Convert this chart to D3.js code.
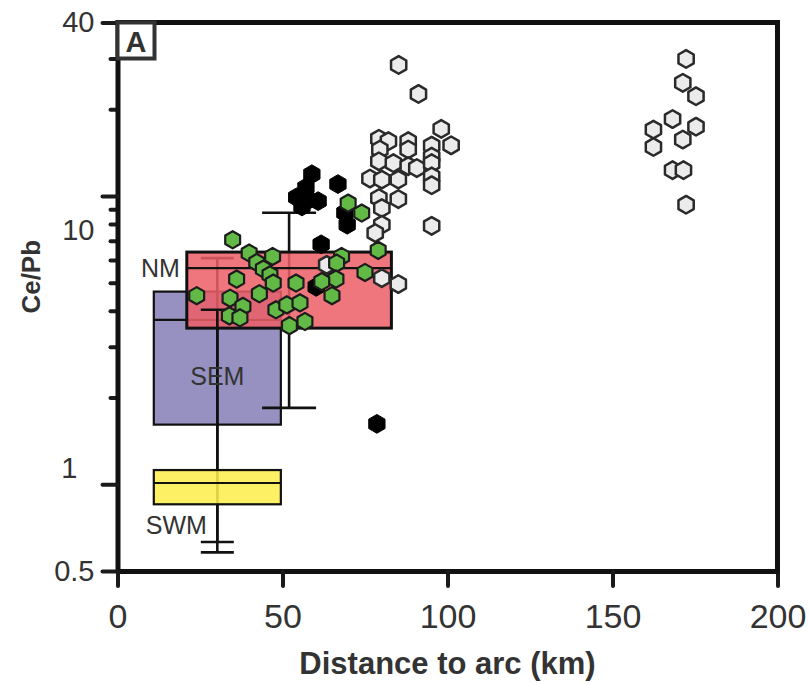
<!DOCTYPE html>
<html>
<head>
<meta charset="utf-8">
<script src="https://cdn.jsdelivr.net/npm/d3@7"></script>
<style>
  body { margin: 0; background: #fff; }
  svg { display: block; }
  text { font-family: "Liberation Sans", Arial, sans-serif; }
</style>
</head>
<body>
<svg id="chart" width="809" height="685"></svg>
<script>
// ---- Axis ticks ----
const xTicks = [0, 50, 100, 150, 200];
const yMajorTicks = [0.5, 1, 10, 40];
const yMinorTicks = [2, 3, 4, 5, 6, 7, 8, 9, 20, 30];

// ---- Box-and-whisker summaries (Ce/Pb vs distance to arc) ----
const boxNames  = ["SEM", "NM", "SWM"];
const boxFromKm = [11, 21, 11];
const boxToKm   = [49.5, 83, 49.5];
const boxLow    = [0.58, 1.84, 0.63];
const boxQ1     = [1.61, 3.48, 0.852];
const boxMedian = [3.72, 5.62, 1.01];
const boxQ3     = [4.66, 6.39, 1.12];
const boxHigh   = [6.09, 8.75, 4.03];

// ---- Samples: [distance km, Ce/Pb] ----
const blackSamples = [
  [58.9, 11.9], [57.1, 10.7], [54.3, 9.9], [60.8, 9.6], [55.9, 9.2], [58.0, 9.7],
  [66.8, 11.0], [68.9, 8.75], [69.6, 7.95], [61.7, 6.8], [60.2, 4.84], [78.6, 1.62]
];
const whiteSamples = [
  [172.3, 29.9], [171.3, 24.7], [175.3, 22.2], [168.2, 18.5], [162.4, 17.0], [175.3, 17.4],
  [171.3, 15.7], [162.4, 14.8], [168.2, 12.3], [171.5, 12.3], [172.3, 9.33],
  [85.2, 28.5], [91.2, 22.6], [98.1, 17.1], [101.1, 15.0], [79.2, 15.8], [82.1, 15.5],
  [88.1, 15.5], [95.2, 14.96], [79.5, 14.5], [88.1, 14.5], [95.2, 13.7], [79.2, 13.2],
  [83.6, 13.0], [88.1, 12.7], [90.7, 12.5], [95.2, 13.0], [76.5, 11.5], [80.1, 11.4],
  [85.1, 11.4], [95.2, 11.7], [95.2, 10.9], [79.2, 9.84], [85.1, 9.76], [80.1, 9.08],
  [80.1, 7.95], [78.1, 7.44], [95.2, 7.88], [63.4, 5.77], [80.1, 5.19], [85.1, 4.95]
];
const greenSamples = [
  [34.9, 7.05], [39.9, 6.34], [47.0, 6.17], [42.2, 5.88], [44.2, 5.58], [36.1, 5.15],
  [46.2, 5.33], [47.2, 4.99], [54.1, 4.99], [24.0, 4.51], [43.0, 4.58], [34.1, 4.42],
  [38.0, 4.14], [33.9, 3.84], [37.1, 3.78], [48.0, 4.03], [51.3, 4.19], [55.3, 4.26],
  [52.1, 3.55], [56.8, 3.67], [67.9, 6.17], [66.4, 5.85], [66.2, 5.15], [61.9, 5.05],
  [65.0, 4.51], [75.0, 5.43], [79.0, 6.48], [69.9, 9.45], [74.0, 8.73]
];

// ---- Styling ----
const boxFill    = { SEM: "#9691c1", NM: "#ee5f69", SWM: "#fdee4e" };
const boxOpacity = { SEM: 1, NM: 0.86, SWM: 0.88 };
const capWidth   = { SEM: 33, NM: 54, SWM: 33 };
const ink = "#111";
const textInk = "#333";

const svg = d3.select("#chart");
const x = d3.scaleLinear().domain([0, 200]).range([117.5, 777.5]);
const y = d3.scaleLog().domain([0.5, 40]).range([571, 22.5]);

const hexagon = {
  draw(ctx, size) {
    const r = Math.sqrt(size * 2 / (3 * Math.sqrt(3)));
    for (let i = 0; i < 6; i++) {
      const a = Math.PI / 3 * i - Math.PI / 2;
      const px = r * Math.cos(a), py = r * Math.sin(a);
      if (i === 0) ctx.moveTo(px, py); else ctx.lineTo(px, py);
    }
    ctx.closePath();
  }
};
const hexArea = r => 3 * Math.sqrt(3) / 2 * r * r;

const boxes = boxNames.map((name, i) => ({
  name, x0: boxFromKm[i], x1: boxToKm[i], low: boxLow[i], q1: boxQ1[i],
  med: boxMedian[i], q3: boxQ3[i], high: boxHigh[i]
}));
const box = n => boxes.find(b => b.name === n);

const plot = svg.append("g");

function drawBox(b) {
  const g = plot.append("g");
  g.append("rect")
    .attr("x", x(b.x0)).attr("y", y(b.q3))
    .attr("width", x(b.x1) - x(b.x0)).attr("height", y(b.q1) - y(b.q3))
    .attr("fill", boxFill[b.name]).attr("fill-opacity", boxOpacity[b.name])
    .attr("stroke", ink).attr("stroke-width", b.name === "NM" ? 3 : 2.2);
  g.append("line")
    .attr("x1", x(b.x0)).attr("x2", x(b.x1))
    .attr("y1", y(b.med)).attr("y2", y(b.med))
    .attr("stroke", ink).attr("stroke-width", 2.2);
}

function drawWhisker(b) {
  const g = plot.append("g").attr("stroke", ink).attr("stroke-width", 2.6);
  const cx = x((b.x0 + b.x1) / 2);
  const w = capWidth[b.name] / 2;
  g.append("line").attr("x1", cx).attr("x2", cx).attr("y1", y(b.high)).attr("y2", y(b.low));
  [b.high, b.low].forEach(v => {
    g.append("line").attr("x1", cx - w).attr("x2", cx + w).attr("y1", y(v)).attr("y2", y(v));
  });
}

// layering: SEM, its whisker, NM (translucent), then SWM on top
drawBox(box("SEM"));
drawWhisker(box("SEM"));
drawWhisker(box("NM"));
drawBox(box("NM"));
drawWhisker(box("SWM"));
drawBox(box("SWM"));

// group labels
const labelAnchor = {
  NM:  { x: b => b.x0, y: b => b.med, anchor: "end", dx: -7, dy: 9 },
  SEM: { x: b => (b.x0 + b.x1) / 2, y: b => Math.sqrt(b.q1 * b.med), anchor: "middle", dx: 0, dy: 13 },
  SWM: { x: b => b.x0, y: b => b.low, anchor: "start", dx: -8, dy: -8 }
};
plot.append("g").selectAll("text").data(boxes).join("text")
  .attr("x", b => x(labelAnchor[b.name].x(b)))
  .attr("y", b => y(labelAnchor[b.name].y(b)))
  .attr("text-anchor", b => labelAnchor[b.name].anchor)
  .attr("dx", b => labelAnchor[b.name].dx)
  .attr("dy", b => labelAnchor[b.name].dy)
  .attr("font-size", 25).attr("fill", textInk)
  .text(b => b.name);

// samples
function drawSamples(data, fill, stroke, sw, r) {
  plot.append("g").selectAll("path").data(data).join("path")
    .attr("transform", d => `translate(${x(d[0])},${y(d[1])})`)
    .attr("d", d3.symbol().type(hexagon).size(hexArea(r)))
    .attr("fill", fill).attr("stroke", stroke).attr("stroke-width", sw)
    .attr("stroke-linejoin", "round");
}
drawSamples(blackSamples, "#000", "#000", 1, 9.4);
drawSamples(whiteSamples, "#eaebea", "#2a2a2a", 2.5, 8.8);
drawSamples(greenSamples, "#63b946", "#1c1c1c", 2.2, 8.6);

// ---- Axes ----
const axisStyle = g => {
  g.select(".domain").attr("stroke", ink).attr("stroke-width", 5);
  g.selectAll(".tick line").attr("stroke", "#1a1a1a").attr("stroke-width", 4).attr("stroke-linecap", "round");
  g.selectAll(".tick text").attr("fill", textInk).attr("font-family", "'Liberation Sans', Arial, sans-serif");
};

// minor y ticks
svg.append("g").attr("transform", `translate(${x(0)},0)`)
  .call(d3.axisLeft(y).tickValues(yMinorTicks).tickSize(7).tickSizeOuter(0).tickFormat(""))
  .call(axisStyle)
  .call(g => g.select(".domain").remove());

// major y ticks
const yLabelShift = { 0.5: [0, 0], 1: [-17, -16], 10: [0, 34], 40: [0, 0] };
svg.append("g").attr("transform", `translate(${x(0)},0)`)
  .call(d3.axisLeft(y).tickValues(yMajorTicks).tickSize(15).tickSizeOuter(0).tickPadding(8)
    .tickFormat(d3.format("")))
  .call(axisStyle)
  .call(g => g.selectAll(".tick text")
    .attr("font-size", 29)
    .attr("transform", d => `translate(${yLabelShift[d][0]},${yLabelShift[d][1]})`));

// x axis
svg.append("g").attr("transform", `translate(0,${y(0.5)})`)
  .call(d3.axisBottom(x).tickValues(xTicks).tickSize(15).tickSizeOuter(0).tickPadding(18))
  .call(axisStyle)
  .call(g => g.selectAll(".tick text").attr("font-size", 34));

// frame: top and right edges
svg.append("line").attr("x1", x(0) - 2).attr("x2", x(200) + 2.5).attr("y1", y(40)).attr("y2", y(40))
  .attr("stroke", ink).attr("stroke-width", 5);
svg.append("line").attr("x1", x(200)).attr("x2", x(200)).attr("y1", y(40)).attr("y2", y(0.5) + 2.5)
  .attr("stroke", ink).attr("stroke-width", 5);

// axis titles
svg.append("text")
  .attr("x", (x(0) + x(200)) / 2).attr("y", 674)
  .attr("text-anchor", "middle").attr("font-size", 31).attr("font-weight", "bold").attr("fill", textInk)
  .text("Distance to arc (km)");
svg.append("text")
  .attr("transform", `translate(40,${(y(0.5) + y(40)) / 2 - 20}) rotate(-90)`)
  .attr("text-anchor", "middle").attr("font-size", 26).attr("font-weight", "bold").attr("fill", textInk)
  .text("Ce/Pb");

// panel tag
const tag = svg.append("g").attr("transform", `translate(${x(0)},${y(40)})`);
tag.append("rect").attr("x", 0).attr("y", 0).attr("width", 37).attr("height", 36)
  .attr("fill", "#fff").attr("stroke", "#333").attr("stroke-width", 4);
tag.append("text").attr("x", 18.5).attr("y", 29).attr("text-anchor", "middle")
  .attr("font-size", 29).attr("font-weight", "bold").attr("fill", "#333").text("A");
</script>
</body>
</html>
